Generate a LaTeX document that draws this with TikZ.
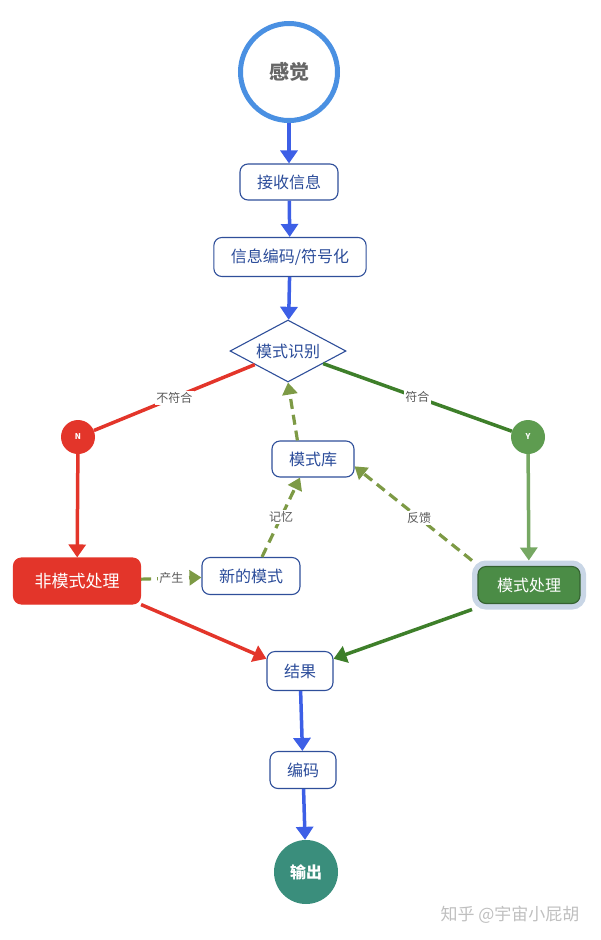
\documentclass[tikz,border=0pt]{standalone}
\usepackage{fontspec}
\setmainfont{Noto Sans CJK SC}
\usetikzlibrary{arrows.meta,shapes.geometric}
\definecolor{ringblue}{HTML}{4A90E2}
\definecolor{flowblue}{HTML}{3D5FE6}
\definecolor{boxblue}{HTML}{2F4F9A}
\definecolor{boxtext}{HTML}{2B4C9A}
\definecolor{nored}{HTML}{E3352A}
\definecolor{yesdark}{HTML}{3E7F2A}
\definecolor{yescirc}{HTML}{5E9C50}
\definecolor{yeslight}{HTML}{76A863}
\definecolor{procgreen}{HTML}{4B8C46}
\definecolor{halo}{HTML}{C9D6E6}
\definecolor{olive}{HTML}{7D9A45}
\definecolor{outteal}{HTML}{3A8E7C}
\begin{document}
\begin{tikzpicture}[x=1pt,y=-1pt,
    box/.style={draw=boxblue, line width=1.1pt, rounded corners=8pt, fill=white, text=boxtext,
      font=\fontsize{16}{16}\selectfont, inner xsep=17pt, minimum height=36pt},
    flow/.style={-{Triangle[width=17pt,length=13pt]}, line width=3.5pt, flowblue},
    branch/.style={line width=3.5pt},
    memline/.style={-{Triangle[width=15pt,length=12pt]}, line width=3.2pt, olive, dash pattern=on 10pt off 6pt},
    lbl/.style={fill=white, text=black!65, font=\fontsize{12}{12}\selectfont, inner sep=1.5pt},
    yn/.style={circle, text=white, font=\fontsize{8}{8}\selectfont\bfseries, minimum size=34pt, inner sep=0pt}]
  \useasboundingbox (0,0) rectangle (600,940);
  \node[circle, draw=ringblue, line width=5pt, fill=white, minimum size=97pt, text=black!60,
    font=\fontsize{20}{20}\selectfont\bfseries] (ganjue) at (289,72) {感觉};
  \node[box] (jieshou) at (289,182) {接收信息};
  \node[box, minimum height=39pt] (fuhao) at (290,257) {信息编码/符号化};
  \node[diamond, draw=boxblue, line width=1.1pt, fill=white, text=boxtext, font=\fontsize{16}{16}\selectfont,
    minimum width=116pt, minimum height=62pt, inner sep=0pt, aspect=1.87] (shibie) at (288,351) {模式识别};
  \node[yn, fill=nored] (no) at (78,437) {N};
  \node[yn, fill=yescirc] (yes) at (528,437) {Y};
  \node[box, fill=nored, draw=nored, text=white, minimum width=127pt, minimum height=46pt,
    font=\fontsize{17}{17}\selectfont] (feimoshi) at (77,581) {非模式处理};
  \node[box, minimum height=37pt] (xinmoshi) at (251,576) {新的模式};
  \node[box] (moshiku) at (313,459) {模式库};
  \node[box, fill=procgreen, draw=procgreen!70!black, text=white, minimum width=102pt, minimum height=37pt,
    preaction={draw=halo, line width=12pt}, outer sep=6pt] (moshichuli) at (529,585) {模式处理};
  \node[box, minimum height=39pt] (jieguo) at (300,671) {结果};
  \node[box, minimum height=37pt] (bianma) at (303,770) {编码};
  \node[circle, fill=outteal, text=white, minimum size=64pt, inner sep=0pt,
    font=\fontsize{16}{16}\selectfont\bfseries] (shuchu) at (306,872) {输出};
  \node[text=black!25, font=\fontsize{17}{17}\selectfont] (zhihu) at (510,915) {知乎 @宇宙小屁胡};

  \draw[flow] (ganjue) -- (jieshou);
  \draw[flow] (jieshou) -- (fuhao);
  \draw[flow] (fuhao) -- (shibie);
  \draw[branch, nored] (shibie) -- node[lbl] {不符合} (no);
  \draw[branch, yesdark] (shibie) -- node[lbl] {符合} (yes);
  \draw[flow, nored] (no) -- (feimoshi);
  \draw[flow, yeslight] (yes) -- (moshichuli);
  \draw[memline] (feimoshi) -- node[lbl] {产生} (xinmoshi);
  \draw[memline] (xinmoshi.60) -- node[lbl] {记忆} (moshiku.235);
  \draw[memline] (moshiku.130) -- (shibie.south);
  \draw[memline] (moshichuli.north west) -- node[lbl, pos=0.45] {反馈} (moshiku.-10);
  \draw[flow, nored] (feimoshi.south east) -- (jieguo.160);
  \draw[flow, yesdark] (moshichuli.south west) -- (jieguo.20);
  \draw[flow] (jieguo) -- (bianma);
  \draw[flow] (bianma) -- (shuchu);
\end{tikzpicture}
\end{document}
